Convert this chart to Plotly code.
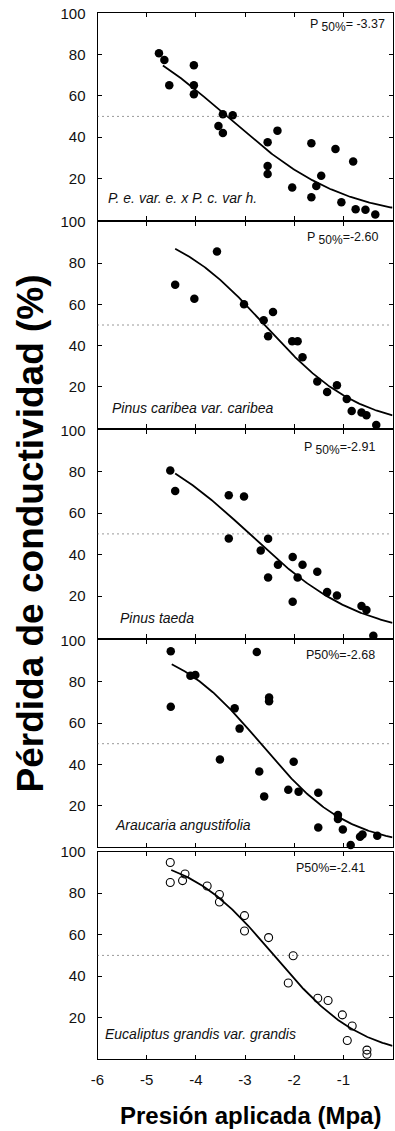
import numpy as np
import plotly.graph_objects as go

# ---- measured data: applied pressure (MPa) vs loss of conductivity (%) ----
p1_x = [-4.75, -4.64, -4.54, -4.04, -4.04, -4.04, -3.54, -3.45, -3.45, -3.25, -2.54, -2.54, -2.54,
        -2.34, -2.04, -1.65, -1.65, -1.55, -1.45, -1.16, -1.04, -0.80, -0.75, -0.55, -0.35]
p1_y = [80.6, 77.4, 65.1, 74.8, 65.1, 60.7, 45.4, 51.0, 42.0, 50.6, 37.5, 26.0, 22.1,
        43.1, 15.5, 37.0, 10.8, 16.3, 21.2, 34.2, 8.4, 28.1, 5.0, 4.7, 2.4]

p2_x = [-4.42, -4.03, -3.57, -3.02, -2.62, -2.53, -2.43, -2.04, -1.93, -1.83, -1.53, -1.33,
        -1.13, -0.93, -0.83, -0.63, -0.53, -0.33]
p2_y = [69.5, 62.7, 85.6, 60.0, 52.3, 44.5, 56.3, 42.1, 42.1, 34.4, 22.7, 17.6,
        20.8, 14.2, 8.4, 7.7, 6.3, 1.6]

p3_x = [-4.52, -4.42, -3.33, -3.02, -3.33, -2.53, -2.68, -2.33, -2.53, -2.03, -1.83, -1.93,
        -2.03, -1.53, -1.33, -1.13, -0.63, -0.53, -0.39]
p3_y = [80.6, 70.7, 68.6, 68.1, 47.8, 47.7, 42.0, 35.1, 29.0, 38.9, 35.1, 29.0,
        17.3, 31.7, 21.9, 20.3, 15.2, 13.3, 0.9]

p4_x = [-4.51, -4.51, -4.11, -4.01, -3.51, -3.21, -3.11, -2.76, -2.71, -2.61, -2.51, -2.51,
        -2.12, -2.01, -1.91, -1.51, -1.51, -1.11, -1.11, -1.01, -0.85, -0.66, -0.61, -0.31]
p4_y = [94.7, 67.9, 82.9, 83.2, 42.4, 67.1, 57.3, 94.4, 36.5, 24.5, 72.4, 70.5,
        27.7, 41.3, 26.8, 26.3, 9.4, 15.5, 13.5, 8.5, 1.0, 5.0, 6.1, 5.5]

p5_x = [-4.52, -4.52, -4.27, -4.22, -3.77, -3.52, -3.52, -3.01, -3.01, -2.52, -2.02, -2.12,
        -1.52, -1.31, -1.02, -0.82, -0.92, -0.52, -0.52]
p5_y = [94.8, 85.2, 86.1, 89.3, 83.5, 79.4, 75.8, 69.2, 61.8, 58.6, 49.8, 36.7,
        29.3, 28.2, 21.3, 15.9, 8.9, 4.3, 2.3]

species = ["P. e. var. e. x P. c. var h.", "Pinus caribea var. caribea", "Pinus taeda",
           "Araucaria angustifolia", "Eucaliptus grandis var. grandis"]

# fitted vulnerability curves: PLC = 100 / (1 + exp(a * (P - P50)))
p50 = [-3.37, -2.60, -2.91, -2.68, -2.41]
slope = [0.832, 1.038, 0.883, 1.123, 1.12]
curve_start = [-4.67, -4.42, -4.42, -4.49, -4.50]
curve_end = 0.0

half_loss = 50
x_ticks = [-6, -5, -4, -3, -2, -1, 0]
x_tick_text = ["-6", "-5", "-4", "-3", "-2", "-1", "0"]
y_ticks = [20, 40, 60, 80, 100]
y_tick_text = ["20", "40", "60", "80", "100"]

xs = [p1_x, p2_x, p3_x, p4_x, p5_x]
ys = [p1_y, p2_y, p3_y, p4_y, p5_y]
hollow = [False, False, False, False, True]
SUB = "<sub><span style='font-size:12px'>50%</span></sub>"
p50_text = ["P " + SUB + "= {:.2f}", "P " + SUB + "={:.2f}", "P " + SUB + "={:.2f}",
            "P50%={:.2f}", "P50%={:.2f}"]

# ---- layout geometry (pixels) ----
W, H = 395, 1131
plot_left, plot_right = 97.5, 392.5
panel_px = [(13.3, 219.5), (221.7, 428.3), (430.3, 637.5), (640.4, 847.0), (851.8, 1059.0)]
p50_pos = [(387, 26), (380, 239), (377, 448), (377, 655), (367, 868)]
species_pos = [(106, 198), (110, 407.5), (117.5, 617.5), (113, 825), (103, 1034)]

FONT = "Liberation Sans, Arial, sans-serif"


def px_x(v):
    return v / W


def px_y(v):
    return 1 - v / H


fig = go.Figure()
annotations = []
shapes = []

for i in range(5):
    n = i + 1
    xa = "x" if n == 1 else f"x{n}"
    ya = "y" if n == 1 else f"y{n}"

    # fitted curve
    cx = np.linspace(curve_start[i], curve_end, 200)
    cy = 100.0 / (1.0 + np.exp(slope[i] * (cx - p50[i])))
    fig.add_trace(go.Scatter(x=cx, y=cy, mode="lines", xaxis=xa, yaxis=ya,
                             line=dict(color="black", width=1.8), showlegend=False,
                             hoverinfo="skip"))

    # observations
    if hollow[i]:
        marker = dict(symbol="circle-open", size=8, color="black", line=dict(width=1.1))
    else:
        marker = dict(symbol="circle", size=8.5, color="black")
    fig.add_trace(go.Scatter(x=xs[i], y=ys[i], mode="markers", xaxis=xa, yaxis=ya,
                             marker=marker, showlegend=False, cliponaxis=False))

    # 50 % reference line
    shapes.append(dict(type="line", xref=f"{xa} domain", yref=ya, x0=0, x1=1,
                       y0=half_loss, y1=half_loss,
                       line=dict(color="#333333", width=1, dash="1px,4px")))

    top, bot = panel_px[i]
    axis_common = dict(showline=True, linecolor="black", linewidth=1, mirror="ticks",
                       ticks="inside", ticklen=4, tickwidth=1, tickcolor="black",
                       showgrid=False, zeroline=False, automargin=False,
                       tickfont=dict(family=FONT, size=15, color="#111111"))
    fig.layout[f"xaxis{'' if n == 1 else n}"] = dict(
        domain=[px_x(plot_left), px_x(plot_right)], range=[-6, 0], anchor=ya,
        tickvals=x_ticks, ticktext=x_tick_text, showticklabels=(n == 5),
        ticklabelstandoff=7, **axis_common)
    fig.layout[f"yaxis{'' if n == 1 else n}"] = dict(
        domain=[px_y(bot), px_y(top)], range=[0, 100], anchor=xa,
        tickvals=y_ticks, ticktext=y_tick_text, ticklabelstandoff=8, **axis_common)

    # P50 label
    ax, ay = p50_pos[i]
    annotations.append(dict(xref="paper", yref="paper", x=px_x(ax), y=px_y(ay),
                            xanchor="right", yanchor="middle", showarrow=False,
                            text=p50_text[i].format(p50[i]),
                            font=dict(family=FONT, size=12.5, color="#111111")))
    # species name
    sx, sy = species_pos[i]
    annotations.append(dict(xref="paper", yref="paper", x=px_x(sx), y=px_y(sy),
                            xanchor="left", yanchor="middle", showarrow=False,
                            text=f"<i>{species[i]}</i>",
                            font=dict(family=FONT, size=14, color="#111111")))

# axis titles
annotations.append(dict(xref="paper", yref="paper", x=px_x(30), y=px_y(533.5),
                        xanchor="center", yanchor="middle", showarrow=False, textangle=-90,
                        text="<b>Pérdida de conductividad (%)</b>",
                        font=dict(family=FONT, size=37, color="black")))
annotations.append(dict(xref="paper", yref="paper", x=px_x(250), y=px_y(1115),
                        xanchor="center", yanchor="middle", showarrow=False,
                        text="<b>Presión aplicada (Mpa)</b>",
                        font=dict(family=FONT, size=24, color="black")))

fig.update_layout(width=W, height=H, margin=dict(l=0, r=0, t=0, b=0),
                  paper_bgcolor="white", plot_bgcolor="white",
                  annotations=annotations, shapes=shapes, showlegend=False)

fig.write_html("out.html", config={"displayModeBar": False})
